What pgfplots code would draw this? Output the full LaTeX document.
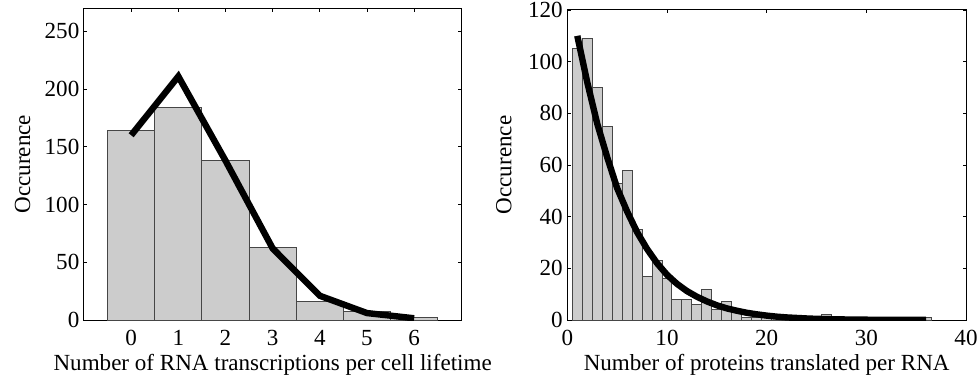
\documentclass[border=0pt]{standalone}
\usepackage{fontspec}
\setmainfont{Liberation Serif}
\usepackage{pgfplots}
\pgfplotsset{compat=1.18}
\definecolor{barfill}{RGB}{204,204,204}
\definecolor{baredge}{RGB}{70,70,70}
\pgfplotsset{
  myax/.style={
    scale only axis,
    axis line style={line width=0.75pt, black},
    tick align=inside,
    major tick length=2.5pt,
    tick style={line width=0.6pt, black},
    /pgf/number format/assume math mode=true,
    tick label style={font=\fontsize{17.3}{20}\selectfont},
    label style={font=\fontsize{17.3}{20}\selectfont},
    xticklabel style={anchor=base, yshift=-18.75pt},
    xlabel style={at={(axis description cs:0.5,0)}, anchor=base, yshift=-37.5pt},
    scaled ticks=false,
  }
}
\begin{document}
\begin{tikzpicture}
\useasboundingbox (-63pt,-44.25pt) rectangle (671.25pt,240pt);
% Left: RNA transcriptions
\begin{axis}[myax,
  at={(0pt,0pt)}, anchor=south west,
  width=283pt, height=233.8pt,
  xmin=-1, xmax=7, ymin=0, ymax=270,
  xtick={0,1,2,3,4,5,6}, ytick={0,50,100,150,200,250},
  xlabel={Number of RNA transcriptions per cell lifetime},
  ylabel={Occurence},
  ylabel style={at={(axis description cs:-0.163,0.5)}, anchor=center},
]
\addplot[ybar, bar width=1, bar shift=0pt, fill=barfill, draw=baredge, line width=0.75pt]
  coordinates {(0,164) (1,184) (2,138) (3,63) (4,16) (5,7) (6,2)};
\addplot[black, line width=4.8pt, mark=none]
  coordinates {(0,160) (1,211) (2,138) (3,62) (4,21) (5,6) (6,1.5)};
\end{axis}
% Right: proteins per RNA
\begin{axis}[myax,
  at={(362.5pt,0pt)}, anchor=south west,
  width=299pt, height=232.5pt,
  xmin=0, xmax=40, ymin=0, ymax=120,
  xtick={0,10,20,30,40}, ytick={0,20,40,60,80,100,120},
  xlabel={Number of proteins translated per RNA},
  ylabel={Occurence},
  ylabel style={at={(axis description cs:-0.159,0.5)}, anchor=center},
]
\addplot[ybar, bar width=1, bar shift=0pt, fill=barfill, draw=baredge, line width=0.75pt]
  coordinates {(1,105) (2,109) (3,90) (4,75) (5,53) (6,58) (7,35) (8,17) (9,23) (10,16)
    (11,8) (12,8) (13,6) (14,12) (15,4) (16,7) (17,3) (18,1) (19,1) (20,1) (21,1) (22,1)
    (23,1) (24,1) (25,1) (26,2) (36,1)};
\addplot[black, line width=4.8pt, mark=none]
  coordinates {(1,110) (2,92) (3,76) (4,63) (5,51) (6,42) (7,34) (8,27.5) (9,22) (10,17.5)
    (11,14) (12,11.2) (13,9) (14,7.2) (15,5.7) (16,4.5) (17,3.6) (18,2.8) (19,2.2) (20,1.7)
    (21,1.3) (22,1.0) (23,0.8) (24,0.6) (25,0.45) (26,0.35) (28,0.2) (30,0.12) (33,0.05) (36,0.02)};
\end{axis}
\end{tikzpicture}
\end{document}
